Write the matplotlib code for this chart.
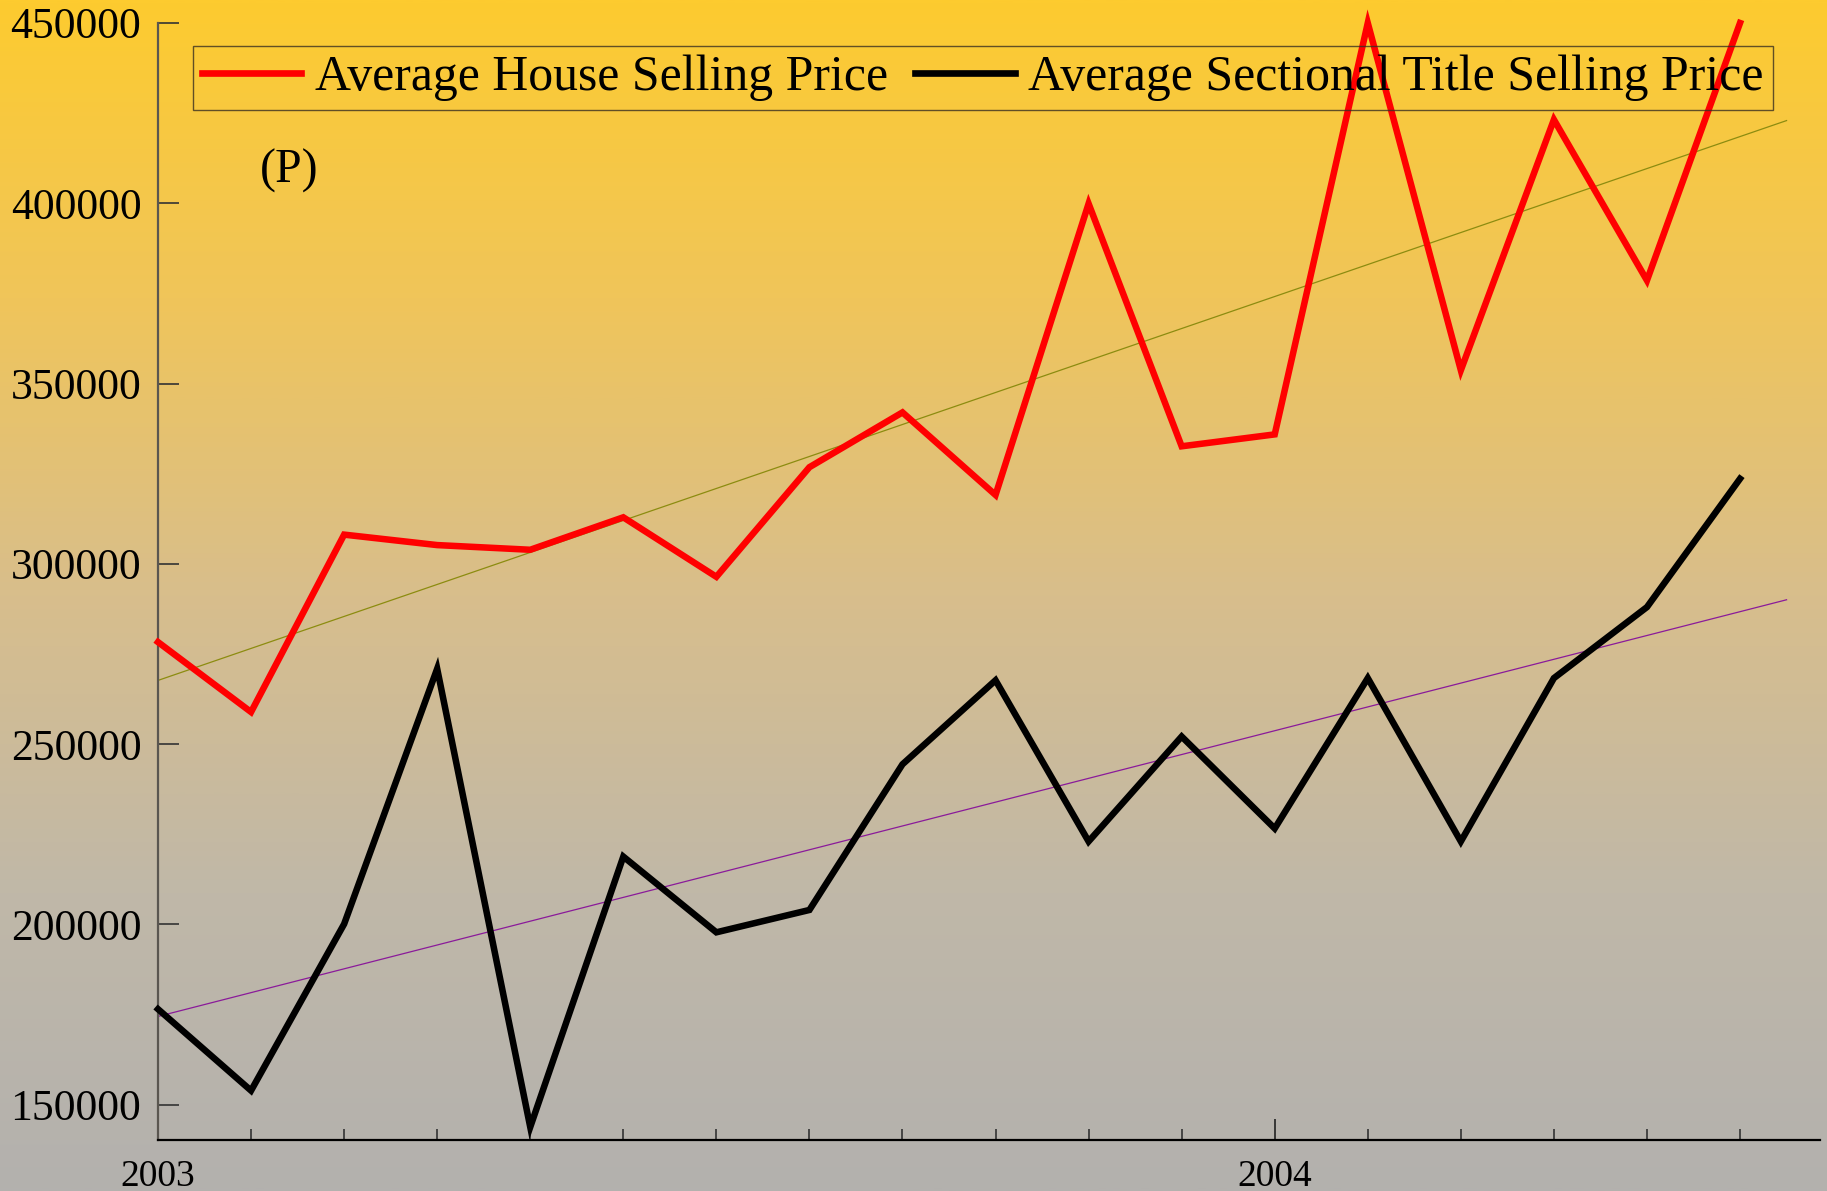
import numpy as np
import matplotlib
matplotlib.use("Agg")
import matplotlib.pyplot as plt
from matplotlib.colors import LinearSegmentedColormap

# ---- data ----
months = list(range(18))  # Jan 2003 .. Jun 2004
house_price = [278300, 258900, 308100, 305200, 303900, 312900, 296400, 326800, 342000,
               319100, 399900, 332600, 335900, 450000, 353700, 423200, 378600, 450000]
sectional_price = [176500, 153900, 200100, 270900, 143800, 218800, 197800, 204000, 244400,
                   267700, 223000, 252100, 226600, 268300, 223000, 268300, 288000, 323600]
year_ticks = [0, 12]
year_labels = ["2003", "2004"]
y_ticks = [150000, 200000, 250000, 300000, 350000, 400000, 450000]
series_labels = ["Average House Selling Price", "Average Sectional Title Selling Price"]

plt.rcParams['font.family'] = ['Liberation Serif', 'DejaVu Serif']

W, H = 1827, 1191
fig = plt.figure(figsize=(W / 100, H / 100), dpi=100)

# background gradient
bg = fig.add_axes([0, 0, 1, 1], zorder=-10)
stops = [(0.0, (253/255, 203/255, 47/255)),
         (0.25, (240/255, 197/255, 90/255)),
         (0.5, (216/255, 190/255, 140/255)),
         (0.75, (192/255, 184/255, 168/255)),
         (1.0, (179/255, 177/255, 174/255))]
cmap = LinearSegmentedColormap.from_list("bg", stops)
grad = np.linspace(0, 1, 512).reshape(-1, 1)
bg.imshow(grad, aspect='auto', cmap=cmap, extent=[0, 1, 0, 1], origin='upper')
bg.set_axis_off()

left, right, bottom, top = 158 / W, 1820 / W, 1 - 1140 / H, 1 - 23 / H
ax = fig.add_axes([left, bottom, right - left, top - bottom])
ax.patch.set_alpha(0)

x = np.array(months, dtype=float)
# trend lines (least squares)
xt = np.array([0, 17.5])
ph = np.polyfit(x, house_price, 1)
ps = np.polyfit(x, sectional_price, 1)
ax.plot(xt, np.polyval(ph, xt), color='#8c8c10', lw=0.9, zorder=2)
ax.plot(xt, np.polyval(ps, xt), color='#8a1a9a', lw=0.9, zorder=2)

l1, = ax.plot(x, house_price, color='#ff0000', lw=4.7, solid_joinstyle='miter', zorder=3, clip_on=False)
l2, = ax.plot(x, sectional_price, color='#000000', lw=4.7, solid_joinstyle='miter', zorder=3, clip_on=False)

ax.set_xlim(0, (1820 - 158) / 93.06)
ax.set_ylim(140200, 450000)

for s in ['top', 'right']:
    ax.spines[s].set_visible(False)
ax.spines['left'].set_color('#5a5650')
ax.spines['left'].set_linewidth(1.6)
ax.spines['bottom'].set_color('#000000')
ax.spines['bottom'].set_linewidth(1.6)
ax.spines['left'].set_bounds(140200, 450000)

ax.set_yticks(y_ticks)
ax.set_yticklabels([str(v) for v in y_ticks])
ax.tick_params(axis='y', direction='in', length=15, width=1.2, color='#333333',
               labelsize=31.5, pad=12)
ax.set_xticks(year_ticks)
ax.set_xticklabels(year_labels)
ax.set_xticks(months, minor=True)
ax.tick_params(axis='x', which='major', direction='in', length=15, width=1.2,
               color='#222222', labelsize=27, pad=14)
ax.tick_params(axis='x', which='minor', direction='in', length=8, width=1.2, color='#333333')

ax.text(1.1, 409000, "(P)", fontsize=34.5, va='center', ha='left')

leg = ax.legend([l1, l2], series_labels, loc='upper left',
                bbox_to_anchor=((193 - 158) / (1820 - 158), (1140 - 46) / 1117),
                borderaxespad=0, ncol=2, fontsize=35.8, frameon=True, fancybox=False,
                handlelength=2.0, handletextpad=0.27, columnspacing=0.55,
                borderpad=0.18)
leg.get_frame().set_facecolor('none')
leg.get_frame().set_edgecolor('#3a3020')
leg.get_frame().set_linewidth(1.0)
for h in leg.get_lines():
    h.set_linewidth(4.8)

fig.savefig("out.png", dpi=100)
